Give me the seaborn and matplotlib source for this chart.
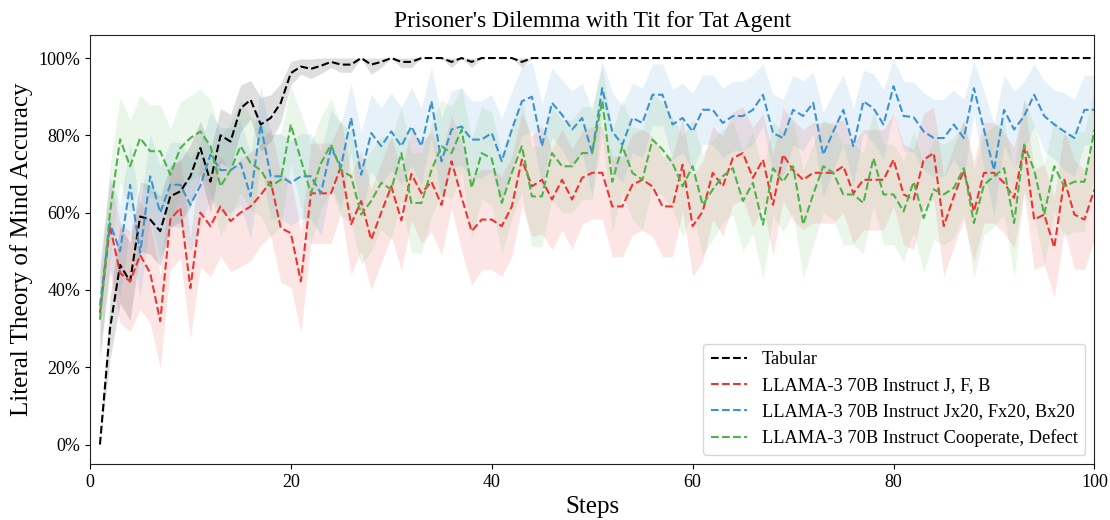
import numpy as np
import pandas as pd
import seaborn as sns
import matplotlib
matplotlib.use('Agg')
import matplotlib.pyplot as plt
from matplotlib.ticker import PercentFormatter

sns.set_style('ticks')
plt.rcParams['font.family'] = ['Liberation Serif', 'DejaVu Serif']
for k in ['text.color', 'axes.labelcolor', 'xtick.color', 'ytick.color']:
    plt.rcParams[k] = 'black'
plt.rcParams['axes.edgecolor'] = '#222222'

steps = list(range(1, 101))

# mean accuracy (%) per step
tabular = [0, 30, 46.5, 42.2, 59, 58.2, 55.2, 64.2, 65.5, 69.4,
           76.7, 68, 80, 78.4, 87, 89.2, 82.8, 84.5, 88.4, 96.1,
           97.8, 97.2, 98, 99, 98.3, 98.3, 100, 98.3, 99, 100,
           99, 99, 100, 100, 100, 99, 100, 99, 100, 100,
           100, 100, 99, 100, 100, 100, 100, 100, 100, 100] + [100] * 50
jfb = [34, 56.5, 44.4, 42.2, 49, 44.4, 31.9, 58.2, 61.2, 40.5,
       60, 56.5, 61.6, 57.8, 60, 61.6, 64.6, 68, 56, 54.7,
       42.2, 65, 65, 65, 72, 57, 63, 53, 60, 66.8,
       58, 70, 65, 68, 62, 73.3, 64, 55.2, 58.2, 58.2,
       56.5, 61.6, 73.7, 66.8, 68.5, 63.4, 68.5, 63.4, 69, 70.3,
       70.3, 61.6, 61.6, 67.2, 68.5, 66.8, 61.6, 61.6, 72.4, 56.5,
       60.3, 70.3, 66.8, 74.1, 75.4, 69, 73.7, 62, 75, 71,
       68.5, 70.3, 70.3, 70.3, 72, 65, 68.5, 68.5, 68.5, 73.7,
       64.7, 63.4, 73.7, 75.4, 56.5, 64.2, 71, 60.3, 70.3, 70.3,
       67.7, 63.8, 77.2, 58.2, 59.5, 51, 68.5, 59.5, 58.2, 66]
jfb_x20 = [36, 57.3, 50, 67.2, 49.6, 69.4, 60, 67.2, 67.2, 62,
           67, 75, 71, 71, 72.8, 64.2, 82.8, 69.4, 69.4, 67.7,
           69.4, 69.4, 65, 76.7, 72, 84.5, 69.8, 80.6, 77.2, 81,
           77.2, 82.3, 77.2, 88.8, 73.3, 81.5, 82.3, 78.9, 78.9, 80.6,
           73.3, 81.5, 88.8, 90, 77.2, 88.4, 85.3, 81.5, 84.5, 75.4,
           92.2, 81, 77.6, 84.5, 83.2, 90.5, 90.5, 82.8, 84.5, 81,
           86.6, 86.6, 83.2, 85, 85, 86.6, 90.5, 80.6, 79.3, 86.6,
           85, 88.4, 75, 81, 86.6, 77.2, 88.8, 87, 82.8, 92.7,
           85, 84.7, 81, 79.3, 79.3, 82.8, 79.3, 92.2, 81.5, 71,
           86.6, 81.5, 85, 90.5, 85, 82.8, 81, 79.3, 86.6, 86.6]
coop_defect = [32.3, 60, 79, 72, 79.3, 75.9, 75.9, 69.8, 76.7, 79.3,
               81, 77.2, 66.8, 71, 77.2, 72.8, 71, 66.8, 68.5, 82.8,
               73.7, 65, 72.8, 77.6, 71, 69.4, 59.5, 63, 67.7, 66,
               75.4, 62.5, 62.5, 71, 77.2, 75.4, 81.5, 66.4, 75.4, 74,
               62.5, 70.3, 77.2, 64.2, 64.2, 75.4, 72, 72, 75.4, 75.4,
               89, 68, 77.2, 70.3, 68.5, 78.9, 76.3, 72.8, 66.8, 72,
               62, 66, 69.4, 71.5, 63, 67.7, 56.9, 71.5, 68, 72,
               56.9, 64.7, 72, 70.3, 64.7, 64.7, 62.5, 74.1, 64.7, 64.7,
               60.3, 68, 58.6, 66, 64.7, 66.4, 71.5, 57.3, 67.2, 69.4,
               71.5, 57.3, 77.6, 71, 59.5, 72, 66.8, 68, 68, 81.5]

# half width of the shaded interval (%)
tabular_err = [0, 8, 10, 10, 9, 9, 9, 8, 8, 8,
               7, 8, 7, 7, 6, 5, 7, 6, 5, 3,
               2, 2.5, 2, 1.5, 2, 2, 0, 2.5, 1.5, 0,
               1.5, 1.5, 0, 0, 0, 1.5, 0, 1.5, 0, 0,
               0, 0, 1.5, 0, 0, 0, 0, 0, 0, 0] + [0] * 50
jfb_err = [11, 12, 13, 13, 14, 13, 12, 13, 13, 13,
           14, 13, 13, 13, 14, 14, 13, 14, 14, 14,
           13, 13, 13, 13, 12, 13, 13, 13, 13, 13,
           13, 12, 13, 13, 13, 12, 14, 14, 13, 13,
           13, 13, 12, 13, 14, 13, 13, 13, 12, 12,
           12, 13, 13, 13, 13, 13, 13, 13, 12, 13,
           13, 12, 13, 12, 12, 13, 12, 13, 12, 13,
           13, 13, 13, 13, 12, 13, 13, 13, 13, 12,
           13, 13, 12, 12, 13, 13, 13, 13, 13, 13,
           13, 13, 12, 13, 13, 13, 13, 14, 13, 13]
jfb_x20_err = [12, 12, 12, 11, 12, 11, 12, 11, 11, 12,
               11, 11, 11, 11, 11, 11, 10, 11, 11, 11,
               11, 11, 11, 10, 11, 9, 11, 10, 10, 10,
               10, 10, 10, 9, 11, 10, 10, 10, 10, 10,
               11, 10, 9, 9, 11, 9, 9, 10, 9, 11,
               7, 10, 10, 9, 9, 8, 8, 9, 9, 10,
               9, 9, 9, 9, 9, 9, 8, 10, 10, 9,
               9, 8, 11, 10, 9, 10, 8, 9, 9, 7,
               9, 9, 10, 10, 10, 9, 10, 7, 10, 12,
               9, 10, 9, 8, 9, 9, 10, 10, 9, 9]
coop_defect_err = [12, 12, 11, 12, 11, 12, 12, 12, 12, 11,
                   11, 12, 13, 12, 12, 12, 12, 13, 12, 10,
                   12, 13, 12, 12, 12, 12, 13, 13, 12, 13,
                   12, 13, 13, 12, 12, 12, 11, 13, 12, 12,
                   13, 12, 12, 13, 13, 12, 12, 12, 12, 12,
                   9, 13, 12, 12, 13, 12, 12, 12, 13, 12,
                   13, 13, 12, 12, 13, 13, 14, 12, 13, 12,
                   14, 13, 12, 12, 13, 13, 13, 12, 13, 13,
                   13, 13, 14, 13, 13, 13, 12, 14, 13, 13,
                   12, 14, 12, 12, 13, 12, 13, 13, 13, 11]

labels = ['Tabular',
          'LLAMA-3 70B Instruct J, F, B',
          'LLAMA-3 70B Instruct Jx20, Fx20, Bx20',
          'LLAMA-3 70B Instruct Cooperate, Defect']
means = [tabular, jfb, jfb_x20, coop_defect]
errs = [tabular_err, jfb_err, jfb_x20_err, coop_defect_err]
colors = ['black', '#ee3431', '#3d93d2', '#4db34b']
band_alpha = [0.13, 0.12, 0.12, 0.11]

fig, ax = plt.subplots(figsize=(11.1, 5.2), dpi=100)

for lab, m, e, c, a in zip(labels, means, errs, colors, band_alpha):
    df = pd.DataFrame({'Steps': steps, 'acc': m, 'err': e})
    sns.lineplot(data=df, x='Steps', y='acc', color=c, linestyle='--',
                 linewidth=1.5, label=lab, ax=ax)
    lo = np.clip(df['acc'] - df['err'], 0, 100)
    hi = np.clip(df['acc'] + df['err'], 0, 100)
    ax.fill_between(df['Steps'], lo, hi, color=c, alpha=a, linewidth=0)

ax.set_xlim(0, 100)
ax.set_ylim(-5, 106)
ax.yaxis.set_major_formatter(PercentFormatter(100, decimals=0))
ax.set_title("Prisoner's Dilemma with Tit for Tat Agent", fontsize=17)
ax.set_xlabel('Steps', fontsize=18)
ax.set_ylabel('Literal Theory of Mind Accuracy', fontsize=18)
ax.tick_params(labelsize=13)
ax.legend(loc='lower right', fontsize=13.2)

fig.subplots_adjust(left=0.081, right=0.986, top=0.933, bottom=0.108)
plt.savefig('out.png', dpi=100)
